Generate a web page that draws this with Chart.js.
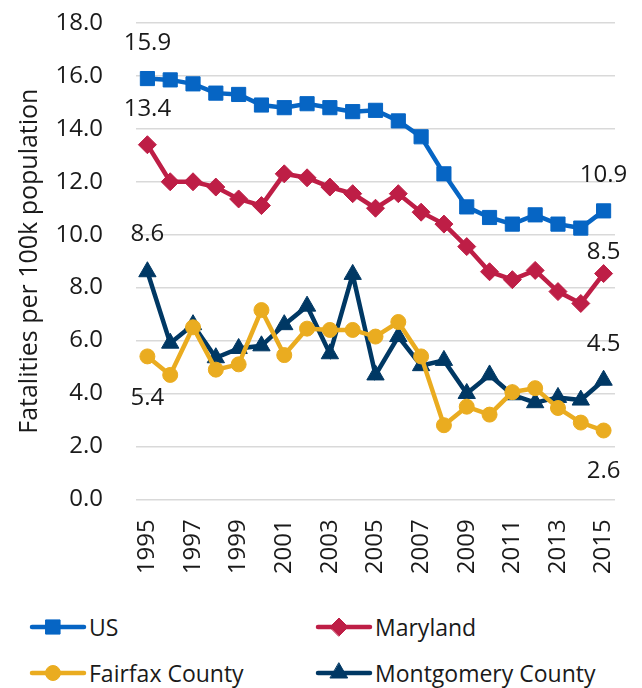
<!DOCTYPE html>
<html>
<head>
<meta charset="utf-8">
<script src="https://cdn.jsdelivr.net/npm/chart.js@4"></script>
<style>
  body { margin: 0; background: #fff; font-family: "Open Sans", sans-serif; }
  #wrap { position: relative; width: 642px; height: 688px; }
  #legend { position: absolute; left: 0; top: 600px; width: 642px; height: 88px; }
  .item { position: absolute; display: flex; align-items: center; font-size: 23px; color: #1a1a1a; }
  .item canvas { margin-right: 2px; }
</style>
</head>
<body>
<div id="wrap">
  <canvas id="myChart" width="642" height="600"></canvas>
  <div id="legend"></div>
</div>
<script>
// dados
const anos = ['1995','1996','1997','1998','1999','2000','2001','2002','2003','2004','2005','2006','2007','2008','2009','2010','2011','2012','2013','2014','2015'];
const usValores = [15.9, 15.85, 15.7, 15.35, 15.3, 14.9, 14.8, 14.95, 14.8, 14.65, 14.7, 14.3, 13.7, 12.3, 11.05, 10.65, 10.4, 10.75, 10.4, 10.25, 10.9];
const marylandValores = [13.4, 12.0, 12.0, 11.8, 11.35, 11.1, 12.3, 12.15, 11.8, 11.55, 11.0, 11.55, 10.85, 10.4, 9.55, 8.6, 8.3, 8.65, 7.85, 7.4, 8.53];
const fairfaxValores = [5.4, 4.7, 6.5, 4.9, 5.1, 7.15, 5.45, 6.45, 6.4, 6.4, 6.15, 6.7, 5.4, 2.8, 3.5, 3.2, 4.05, 4.2, 3.45, 2.9, 2.6];
const montgomeryValores = [8.6, 5.9, 6.6, 5.35, 5.7, 5.8, 6.6, 7.3, 5.5, 8.5, 4.7, 6.15, 5.05, 5.25, 4.0, 4.7, 3.95, 3.65, 3.85, 3.75, 4.5];
const nomes = ['US', 'Maryland', 'Fairfax County', 'Montgomery County'];
const yTicks = [0, 2, 4, 6, 8, 10, 12, 14, 16, 18];

const cores = ['#0665c4', '#be1e46', '#eaac20', '#003864'];
const estilos = ['rect', 'rectRot', 'circle', 'triangle'];
const raios = [10, 9, 7.5, 10];

// rotulos de dados: [dataset, indice, deslocamento vertical]
const rotulos = [
  [0, 0, -35], [1, 0, -36], [3, 0, -38], [2, 0, 42],
  [0, 20, -36], [1, 20, -21], [3, 20, -36], [2, 20, 41]
];

const series = [usValores, marylandValores, fairfaxValores, montgomeryValores];

const datasets = series.map(function(valores, i) {
  return {
    label: nomes[i],
    data: valores,
    borderColor: cores[i],
    backgroundColor: cores[i],
    borderWidth: 4.5,
    pointStyle: estilos[i],
    pointRadius: raios[i],
    pointHoverRadius: raios[i],
    pointBorderWidth: 1,
    pointBackgroundColor: cores[i],
    pointBorderColor: cores[i],
    tension: 0
  };
});

const rotulosPlugin = {
  id: 'rotulos',
  afterDatasetsDraw(chart) {
    const ctx = chart.ctx;
    ctx.save();
    ctx.font = '24px "Open Sans"';
    ctx.fillStyle = '#1a1a1a';
    ctx.textAlign = 'center';
    ctx.textBaseline = 'middle';
    rotulos.forEach(function(r) {
      const ponto = chart.getDatasetMeta(r[0]).data[r[1]];
      const valor = chart.data.datasets[r[0]].data[r[1]];
      ctx.fillText(valor.toFixed(1), ponto.x, ponto.y + r[2]);
    });
    ctx.restore();
  }
};

const ctx = document.getElementById('myChart').getContext('2d');
new Chart(ctx, {
  type: 'line',
  data: { labels: anos, datasets: datasets },
  plugins: [rotulosPlugin],
  options: {
    responsive: false,
    animation: false,
    layout: { padding: { top: 23, right: 27, left: 0, bottom: 0 } },
    plugins: { legend: { display: false }, tooltip: { enabled: false } },
    scales: {
      x: {
        offset: true,
        grid: { display: false, drawTicks: false },
        border: { display: false },
        afterFit: function(scale) {
          scale.height = 100.7;
          scale.paddingLeft = 0;
          scale.paddingRight = 0;
        },
        ticks: {
          autoSkip: false,
          minRotation: 90,
          maxRotation: 90,
          padding: 20,
          color: '#1a1a1a',
          font: { family: 'Open Sans', size: 24 },
          callback: function(v, i) { return i % 2 === 0 ? anos[i] : ''; }
        }
      },
      y: {
        min: 0,
        max: 18,
        afterBuildTicks: function(scale) { scale.ticks = yTicks.map(function(v) { return { value: v }; }); },
        afterFit: function(scale) {
          scale.width = 136;
          scale.paddingTop = 0;
          scale.paddingBottom = 0;
        },
        grid: { color: '#d9d9d9', lineWidth: 1.5, drawTicks: false },
        border: { display: false },
        ticks: {
          padding: 33,
          color: '#1a1a1a',
          font: { family: 'Open Sans', size: 24 },
          callback: function(v) { return v.toFixed(1); }
        },
        title: {
          display: true,
          text: 'Fatalities per 100k population',
          color: '#1a1a1a',
          font: { family: 'Open Sans', size: 25 },
          padding: { top: 15, bottom: 0 }
        }
      }
    }
  }
});

// legenda em html
const posLegenda = [[29, 27], [315, 27], [29, 73], [315, 73]];
const legenda = document.getElementById('legend');
nomes.forEach(function(nome, i) {
  const item = document.createElement('div');
  item.className = 'item';
  item.style.left = posLegenda[i][0] + 'px';
  item.style.top = (posLegenda[i][1] - 16) + 'px';
  const c = document.createElement('canvas');
  c.width = 58; c.height = 32;
  const g = c.getContext('2d');
  g.strokeStyle = cores[i];
  g.lineWidth = 4.5;
  g.lineCap = 'round';
  g.beginPath(); g.moveTo(3, 16); g.lineTo(55, 16); g.stroke();
  g.fillStyle = cores[i];
  g.strokeStyle = cores[i];
  g.lineWidth = 1;
  Chart.helpers.drawPoint(g, { pointStyle: estilos[i], radius: raios[i], borderWidth: 1, rotation: 0 }, 24, 16);
  item.appendChild(c);
  const t = document.createElement('span');
  t.textContent = nome;
  item.appendChild(t);
  legenda.appendChild(item);
});
</script>
</body>
</html>
